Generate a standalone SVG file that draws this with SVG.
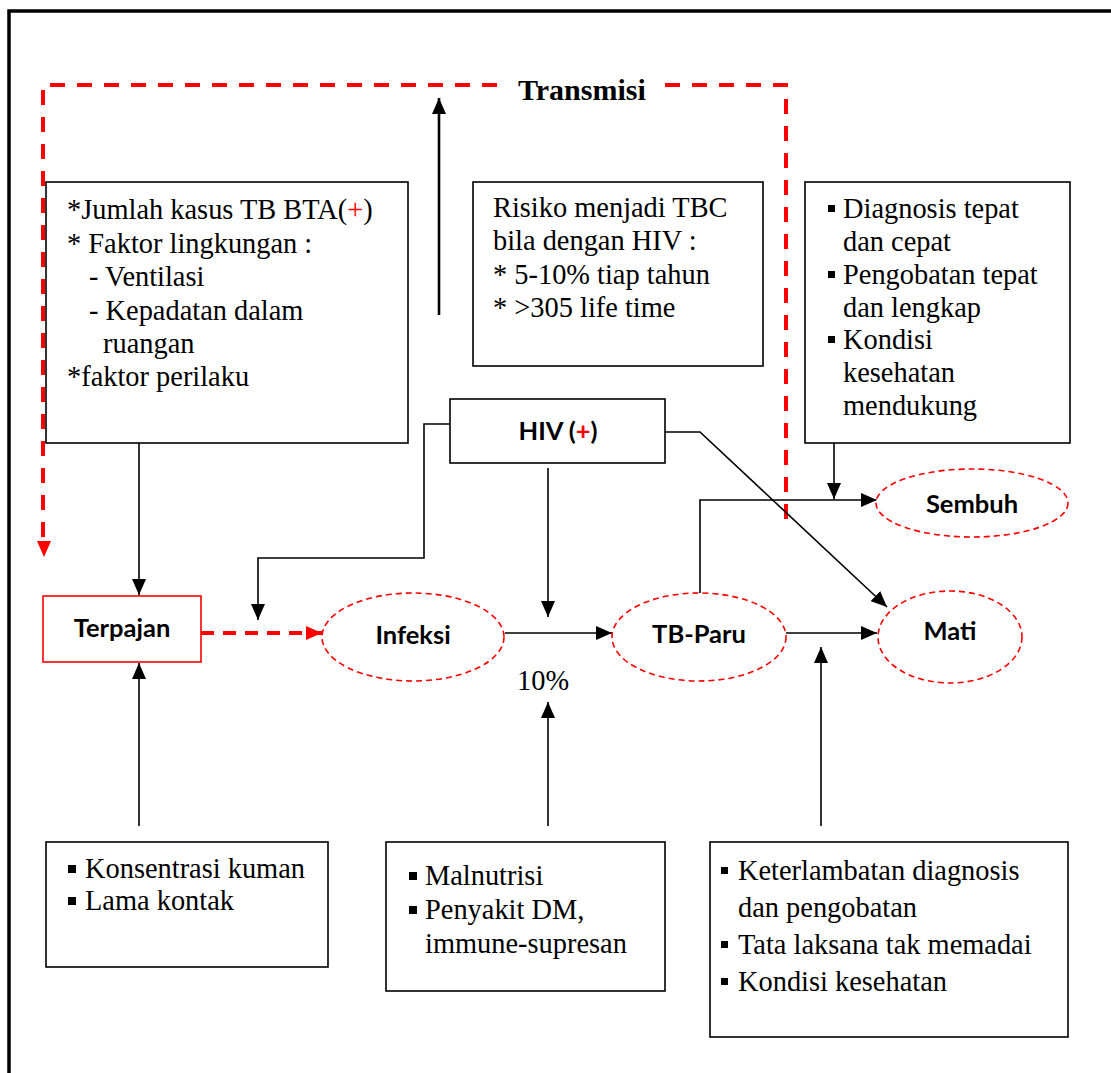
<svg xmlns="http://www.w3.org/2000/svg" width="1111" height="1073" viewBox="0 0 1111 1073">
  <style>
    .box { fill: #fff; stroke: #000; stroke-width: 1.6; }
    .tx { font-family: "Liberation Serif", "Times New Roman", serif; font-size: 28.4px; fill: #000; }
    .lbl { font-family: Lato, "Liberation Sans", sans-serif; font-weight: 700; font-size: 25.5px; fill: #000; text-anchor: middle; }
    .oval { fill: #fff; stroke: #f00; stroke-width: 1.6; stroke-dasharray: 6 4; }
    .con { fill: none; stroke: #000; stroke-width: 1.6; }
    .trans { fill: none; stroke: #f00; stroke-width: 4; stroke-dasharray: 15 12; }
    .red { fill: #f00; }
    .bul { fill: #000; }
  </style>
  <defs>
    <marker id="ah" markerUnits="userSpaceOnUse" markerWidth="16" markerHeight="14" refX="16" refY="7" orient="auto">
      <path d="M0,0 L16,7 L0,14 z" fill="#000"/>
    </marker>
    <marker id="ahr" markerUnits="userSpaceOnUse" markerWidth="16" markerHeight="14" refX="16" refY="7" orient="auto">
      <path d="M0,0 L16,7 L0,14 z" fill="#f00"/>
    </marker>
  </defs>

  <rect width="1111" height="1073" fill="#fff"/>

  <!-- page frame -->
  <path d="M9,1073 V11 H1111" fill="none" stroke="#000" stroke-width="3.5"/>

  <!-- transmission loop -->
  <g id="transmisi">
    <path class="trans" d="M497,85 H43 V540"/>
    <path class="trans" d="M665,85 H786 V522"/>
    <path class="red" d="M37,541 L51,541 L44,557 z"/>
    <text x="518" y="100" font-family="Liberation Serif, Times New Roman, serif" font-weight="700" font-size="30" fill="#000">Transmisi</text>
  </g>

  <!-- connectors -->
  <g id="connectors">
    <path d="M439,315 V98" fill="none" stroke="#000" stroke-width="2.6" marker-end="url(#ah)"/>
    <path class="con" d="M139,443 V595" marker-end="url(#ah)"/>
    <path class="con" d="M450,424 H424 V558 H258 V620" marker-end="url(#ah)"/>
    <path class="con" d="M548,468 V617" marker-end="url(#ah)"/>
    <path class="con" d="M505,633 H612" marker-end="url(#ah)"/>
    <path class="con" d="M786,633 H877" marker-end="url(#ah)"/>
    <path class="con" d="M700,597 V500 H877" marker-end="url(#ah)"/>
    <path class="con" d="M834,443 V499" marker-end="url(#ah)"/>
    <path class="con" d="M665,432 H700 L887,607" marker-end="url(#ah)"/>
    <path class="con" d="M139,826 V663" marker-end="url(#ah)"/>
    <path class="con" d="M548,826 V702" marker-end="url(#ah)"/>
    <path class="con" d="M821,826 V647" marker-end="url(#ah)"/>
    <path d="M201,633 H322" fill="none" stroke="#f00" stroke-width="4" stroke-dasharray="13 9" marker-end="url(#ahr)"/>
  </g>

  <!-- risk factors for exposure -->
  <g id="faktor-paparan">
    <rect class="box" x="46" y="182" width="362" height="261"/>
    <text class="tx" x="67" y="219">*Jumlah kasus TB BTA(<tspan fill="#f00">+</tspan>)</text>
    <text class="tx" x="67" y="253">* Faktor lingkungan :</text>
    <text class="tx" x="89" y="286">- Ventilasi</text>
    <text class="tx" x="89" y="320">- Kepadatan dalam</text>
    <text class="tx" x="103" y="353">ruangan</text>
    <text class="tx" x="67" y="386">*faktor perilaku</text>
  </g>

  <g id="risiko-hiv">
    <rect class="box" x="473" y="182" width="290" height="184"/>
    <text class="tx" x="493" y="217">Risiko menjadi TBC</text>
    <text class="tx" x="493" y="250">bila dengan HIV :</text>
    <text class="tx" x="493" y="284">* 5-10% tiap tahun</text>
    <text class="tx" x="493" y="317">* &gt;305 life time</text>
  </g>

  <g id="faktor-sembuh">
    <rect class="box" x="805" y="182" width="265" height="261"/>
    <rect class="bul" x="828" y="205" width="7" height="7"/>
    <text class="tx" x="843" y="218">Diagnosis tepat</text>
    <text class="tx" x="843" y="251">dan cepat</text>
    <rect class="bul" x="828" y="271" width="7" height="7"/>
    <text class="tx" x="843" y="284">Pengobatan tepat</text>
    <text class="tx" x="843" y="317">dan lengkap</text>
    <rect class="bul" x="828" y="336" width="7" height="7"/>
    <text class="tx" x="843" y="349">Kondisi</text>
    <text class="tx" x="843" y="382">kesehatan</text>
    <text class="tx" x="843" y="415">mendukung</text>
  </g>

  <g id="hiv">
    <rect class="box" x="450" y="399" width="215" height="64"/>
    <text class="lbl" x="558" y="440">HIV (<tspan fill="#f00">+</tspan>)</text>
  </g>

  <g id="terpajan">
    <rect x="43" y="596" width="158" height="66" fill="#fff" stroke="#f00" stroke-width="1.6"/>
    <text class="lbl" x="122" y="637">Terpajan</text>
  </g>

  <g id="infeksi">
    <ellipse class="oval" cx="413" cy="637" rx="91" ry="44"/>
    <text class="lbl" x="413" y="644">Infeksi</text>
  </g>

  <g id="tb-paru">
    <ellipse class="oval" cx="699" cy="637" rx="87" ry="44"/>
    <text class="lbl" x="699" y="643">TB-Paru</text>
  </g>

  <g id="mati">
    <ellipse class="oval" cx="950" cy="637" rx="72" ry="46"/>
    <text class="lbl" x="950" y="640">Mati</text>
  </g>

  <g id="sembuh">
    <ellipse class="oval" cx="972" cy="503" rx="96" ry="34"/>
    <text class="lbl" x="972" y="513">Sembuh</text>
  </g>

  <text class="tx" x="517" y="690">10%</text>

  <g id="faktor-infeksi">
    <rect class="box" x="46" y="842" width="282" height="125"/>
    <rect class="bul" x="68" y="865" width="8" height="8"/>
    <text class="tx" x="85" y="878">Konsentrasi kuman</text>
    <rect class="bul" x="68" y="897" width="8" height="8"/>
    <text class="tx" x="85" y="910">Lama kontak</text>
  </g>

  <g id="faktor-tb">
    <rect class="box" x="386" y="842" width="279" height="149"/>
    <rect class="bul" x="409" y="872" width="8" height="8"/>
    <text class="tx" x="425" y="885">Malnutrisi</text>
    <rect class="bul" x="409" y="906" width="8" height="8"/>
    <text class="tx" x="425" y="919">Penyakit DM,</text>
    <text class="tx" x="425" y="953">immune-supresan</text>
  </g>

  <g id="faktor-mati">
    <rect class="box" x="710" y="842" width="358" height="195"/>
    <rect class="bul" x="721" y="867" width="7" height="7"/>
    <text class="tx" x="738" y="880">Keterlambatan diagnosis</text>
    <text class="tx" x="738" y="917">dan pengobatan</text>
    <rect class="bul" x="721" y="941" width="7" height="7"/>
    <text class="tx" x="738" y="954">Tata laksana tak memadai</text>
    <rect class="bul" x="721" y="978" width="7" height="7"/>
    <text class="tx" x="738" y="991">Kondisi kesehatan</text>
  </g>
</svg>
